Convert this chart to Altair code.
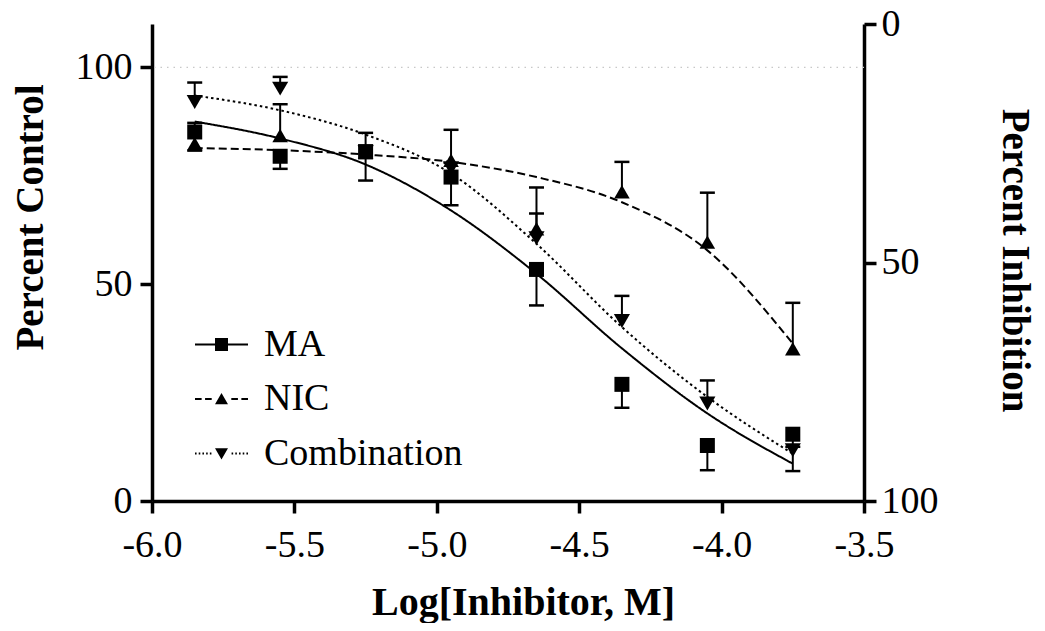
import altair as alt
import pandas as pd

# ---------------- data ----------------
log_conc = [-5.85, -5.55, -5.25, -4.95, -4.65, -4.35, -4.05, -3.75]
series_names = ["MA", "NIC", "Combination"]

ma_mean = [85.1, 79.5, 80.5, 74.7, 53.4, 26.9, 12.8, 15.4]
ma_err_end = [80.8, 76.6, 73.9, 68.2, 45.1, 21.5, 7.1, 6.9]
nic_mean = [82.4, 84.3, 80.5, 78.6, 62.8, 71.3, 59.7, 35.1]
nic_err_end = [87.2, 91.5, 82.0, 85.6, 72.3, 78.2, 71.1, 45.7]
comb_mean = [92.0, 95.1, 80.5, 76.7, 60.6, 41.5, 22.5, 11.7]
comb_err_end = [96.5, 97.8, 84.9, 78.0, 66.3, 47.3, 27.8, 12.5]

# fitted curves (at the same concentrations)
ma_curve = [87.5, 83.6, 77.6, 67.0, 52.4, 35.2, 20.2, 8.6]
nic_curve = [81.4, 80.9, 79.9, 78.2, 74.7, 68.9, 57.8, 36.3]
comb_curve = [93.5, 90.1, 84.5, 75.5, 59.3, 40.1, 24.0, 10.9]

ref_line = [100]
x_ticks = [-6.0, -5.5, -5.0, -4.5, -4.0, -3.5]
left_ticks = [0, 50, 100]
right_ticks = [0, 50, 100]

# ---------------- tables ----------------
rows = []
for name, means, errs, curve in [
    ("MA", ma_mean, ma_err_end, ma_curve),
    ("NIC", nic_mean, nic_err_end, nic_curve),
    ("Combination", comb_mean, comb_err_end, comb_curve),
]:
    for x, m, e, c in zip(log_conc, means, errs, curve):
        rows.append({"series": name, "x": x, "mean": m, "err": e, "curve": c})
df = pd.DataFrame(rows)
ref_df = pd.DataFrame({"v": ref_line})
right_df = pd.DataFrame({"v": right_ticks})

FONT = "Liberation Serif"
XT = "Log[Inhibitor, M]"
YT = "Percent Control"

# ---------------- legend glyphs (line sample + marker, as filled paths) ----------------
H = 0.035  # half thickness of the line sample, in symbol units


def seg_path(segs):
    return "".join(f"M{a},{-H}H{b}V{H}H{a}Z" for a, b in segs)


def mirror(segs):
    return segs + [(-b, -a) for a, b in segs]


solid_segs = mirror([(-1, -0.245)])
dash_segs = mirror([(-1, -0.75), (-0.62, -0.37)])
dot_segs = mirror([(-1, -0.94), (-0.86, -0.80), (-0.72, -0.66), (-0.58, -0.52), (-0.44, -0.38)])

legend_paths = [
    seg_path(solid_segs) + "M-0.245,-0.245H0.245V0.245H-0.245Z",
    seg_path(dash_segs) + "M0,-0.23L0.245,0.2L-0.245,0.2Z",
    seg_path(dot_segs) + "M0,0.23L0.245,-0.2L-0.245,-0.2Z",
]

x_scale = alt.Scale(domain=[-6.0, -3.5], nice=False, zero=False)
y_scale = alt.Scale(domain=[0, 110], nice=False, zero=False)

x_axis = alt.Axis(values=x_ticks, title=XT, labelPadding=13,
                  labelExpr="replace(format(datum.value, '.1f'), '\u2212', '-')",
                  labelFlush=False, labelOverlap=False, titleX=371, titleY=113,
                  titleBaseline="alphabetic", titleAlign="center")
y_axis = alt.Axis(values=left_ticks, title=YT, labelPadding=8, titleAngle=270,
                  titleFontSize=39,
                  titleX=-122, titleY=193, titleBaseline="middle", titleAlign="center")

base = alt.Chart(df)

ref = alt.Chart(ref_df).mark_rule(color="#c8c8c8", strokeDash=[1.5, 5], strokeWidth=1.2).encode(
    y=alt.Y("v:Q", scale=y_scale, axis=y_axis, title=YT)
)

lines = base.mark_line(interpolate="monotone", strokeWidth=2, color="black").encode(
    x=alt.X("x:Q", scale=x_scale, axis=x_axis, title=XT),
    y=alt.Y("curve:Q", scale=y_scale, title=YT),
    strokeDash=alt.StrokeDash("series:N", scale=alt.Scale(domain=series_names,
                              range=[[1, 0], [8, 4], [2.5, 3]]), legend=None),
    detail="series:N",
)

bars = base.mark_rule(strokeWidth=2, color="black").encode(
    x=alt.X("x:Q", scale=x_scale, title=XT),
    y=alt.Y("mean:Q", scale=y_scale, title=YT),
    y2="err:Q",
)

caps = base.mark_tick(orient="horizontal", size=15, thickness=2.5, color="black", opacity=1).encode(
    x=alt.X("x:Q", scale=x_scale, title=XT),
    y=alt.Y("err:Q", scale=y_scale, title=YT),
)

points = base.mark_point(filled=True, color="black", opacity=1).encode(
    x=alt.X("x:Q", scale=x_scale, title=XT),
    y=alt.Y("mean:Q", scale=y_scale, title=YT),
    shape=alt.Shape("series:N", scale=alt.Scale(domain=series_names,
                    range=["square", "triangle-up", "triangle-down"]), legend=None),
    size=alt.Size("series:N", scale=alt.Scale(domain=series_names, range=[225, 260, 260]), legend=None),
)

legend_layer = base.transform_filter("false").mark_point(
    filled=True, fill="black", opacity=1
).encode(
    x=alt.X("x:Q", scale=x_scale, title=XT),
    y=alt.Y("mean:Q", scale=y_scale, title=YT),
    shape=alt.Shape("series:N", scale=alt.Scale(domain=series_names, range=legend_paths),
                    legend=alt.Legend(orient="none", legendX=43, legendY=294, title=None,
                                      labelFont=FONT, labelFontSize=38, labelColor="black",
                                      labelLimit=500,
                                      symbolSize=2809, symbolFillColor="black",
                                      symbolStrokeWidth=0,
                                      symbolOpacity=1, labelOffset=16, rowPadding=8.5,
                                      padding=0)),
)

main = alt.layer(ref, lines, bars, caps, points, legend_layer).resolve_scale(
    shape="independent", size="independent")

right = alt.Chart(right_df).mark_point(opacity=0).encode(
    y=alt.Y("v:Q", scale=alt.Scale(domain=[0, 100], reverse=True, nice=False),
            axis=alt.Axis(orient="right", values=right_ticks, title="Percent Inhibition",
                          labelPadding=5, titleAngle=90, titleX=150, titleY=236,
                          titleFontSize=39,
                          titleBaseline="middle", titleAlign="center"))
)

chart = alt.layer(main, right).resolve_scale(y="independent").properties(
    width=712, height=477,
    padding={"left": 144, "top": 16, "right": 173, "bottom": 122},
    autosize=alt.AutoSizeParams(type="none"),
).configure_view(stroke=None).configure_axis(
    grid=False,
    domainColor="black", domainWidth=3.5,
    tickColor="black", tickWidth=3.5, tickSize=12,
    labelFont=FONT, labelFontSize=38, labelColor="black",
    titleFont=FONT, titleFontSize=40, titleFontWeight="bold", titleColor="black",
)

chart.save("out.html", embed_options={"renderer": "svg", "actions": False})
